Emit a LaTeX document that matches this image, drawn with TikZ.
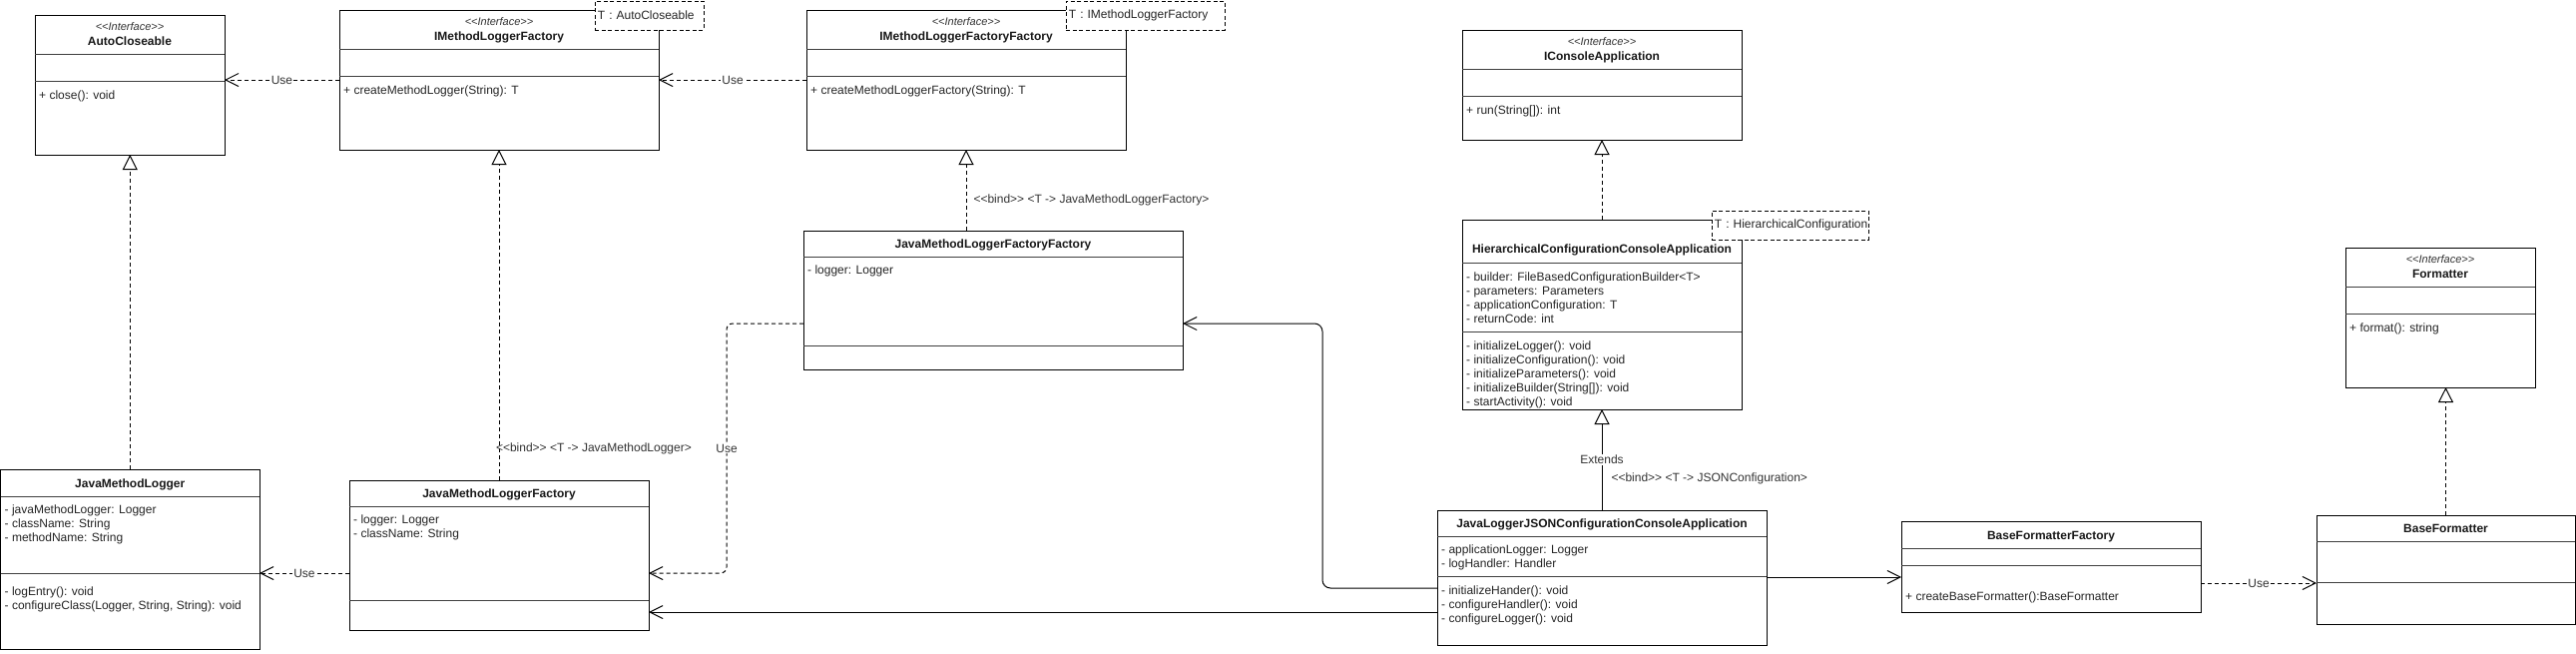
\documentclass[tikz,border=0pt]{standalone}
\usepackage{fontspec}
\setmainfont{Liberation Sans}
\usepackage{tikz}
\usetikzlibrary{positioning,arrows.meta,calc}

\def\linestep{14pt}
\tikzstyle{classbox}=[draw=black, line width=1pt, fill=white, anchor=north west,
    inner sep=0pt, outer sep=0pt]
\tikzstyle{sepline}=[draw=black!75, line width=0.8pt]
\tikzstyle{stereo}=[anchor=base, inner sep=0pt, text=black!80,
    font=\fontsize{11}{13}\selectfont\itshape]
\tikzstyle{title}=[anchor=base, inner sep=0pt, text=black!90,
    font=\fontsize{12}{14}\selectfont\bfseries]
\tikzstyle{member}=[anchor=base west, inner sep=0pt, text=black!85,
    font=\fontsize{12}{14}\selectfont]
\tikzstyle{tnote}=[draw=black, line width=0.9pt, dash pattern=on 4pt off 2.5pt, fill=white,
    anchor=north west, inner xsep=2.5pt, inner ysep=0pt, minimum height=28.5pt,
    align=left, text=black!85, font=\fontsize{12}{14}\selectfont]
\tikzstyle{lbl}=[fill=white, inner sep=1pt, text=black!80, font=\fontsize{12}{14}\selectfont]
\tikzstyle{bindlbl}=[anchor=west, inner sep=0pt, text=black!80, font=\fontsize{12}{14}\selectfont]
\tikzstyle{use}=[draw=black, line width=1pt, dash pattern=on 4pt off 3pt,
    -{Straight Barb[length=13pt, width=13pt]}]
\tikzstyle{assoc}=[draw=black, line width=1pt, -{Straight Barb[length=13pt, width=13pt]}]
\tikzstyle{realize}=[draw=black, line width=1pt, dash pattern=on 4pt off 3pt,
    -{Triangle[open, fill=white, length=15pt, width=15pt]}]
\tikzstyle{extend}=[draw=black, line width=1pt,
    -{Triangle[open, fill=white, length=15pt, width=15pt]}]

% box with two compartment lines: name, x, y, width, height, 1st line, 2nd line
\newcommand{\umlclass}[7]{%
  \node[classbox, minimum width=#4pt, minimum height=#5pt] (#1) at (#2,#3) {};
  \draw[sepline] ([yshift=-#6pt]#1.north west) -- ([yshift=-#6pt]#1.north east);
  \draw[sepline] ([yshift=-#7pt]#1.north west) -- ([yshift=-#7pt]#1.north east);}
% interface header
\newcommand{\ifacetitle}[2]{%
  \node[stereo] at ([yshift=-15.5pt]#1.north) {<{}<Interface>{}>};
  \node[title] at ([yshift=-30.5pt]#1.north) {#2};}
% member lines: node, first baseline below top, list
\newcommand{\members}[3]{%
  \foreach \m [count=\k from 0] in {#3}
    \node[member] at ([xshift=4pt, yshift={-(#2pt+\k*\linestep)}]#1.north west) {\m};}

\begin{document}
\begin{tikzpicture}[x=1pt, y=-1pt]
\path[use as bounding box, fill=white] (0,0) rectangle (2581,654);

% interfaces
\umlclass{auto}{35}{15}{190}{140}{39.3}{66}
\ifacetitle{auto}{AutoCloseable}
\members{auto}{84.3}{+ close(): void}

\umlclass{imlf}{340}{10}{320}{140}{39.3}{66}
\ifacetitle{imlf}{IMethodLoggerFactory}
\members{imlf}{84.3}{+ createMethodLogger(String): T}

\umlclass{imlff}{808}{10}{320}{140}{39.3}{66}
\ifacetitle{imlff}{IMethodLoggerFactoryFactory}
\members{imlff}{84.3}{+ createMethodLoggerFactory(String): T}

\umlclass{icons}{1465}{30}{280}{110}{39.3}{66.7}
\ifacetitle{icons}{IConsoleApplication}
\members{icons}{84.3}{+ run(String[]): int}

\umlclass{fmt}{2350}{248}{190}{140}{39.3}{66.3}
\ifacetitle{fmt}{Formatter}
\members{fmt}{84.3}{+ format(): string}

% classes
\umlclass{hcca}{1465}{220}{280}{190}{43.3}{112.3}
\node[title] at ([yshift=-33.6pt]hcca.north) {HierarchicalConfigurationConsoleApplication};
\members{hcca}{61}{- builder: FileBasedConfigurationBuilder<T>, - parameters: Parameters,
  - applicationConfiguration: T, - returnCode: int}
\members{hcca}{130.3}{- initializeLogger(): void, - initializeConfiguration(): void,
  - initializeParameters(): void, - initializeBuilder(String[]): void, - startActivity(): void}

\umlclass{jlj}{1440}{511}{330}{135}{26}{66}
\node[title] at ([yshift=-17.8pt]jlj.north) {JavaLoggerJSONConfigurationConsoleApplication};
\members{jlj}{43.3}{- applicationLogger: Logger, - logHandler: Handler}
\members{jlj}{84.3}{- initializeHander(): void, - configureHandler(): void, - configureLogger(): void}

\umlclass{jmlff}{805}{231}{380}{139}{26}{115}
\node[title] at ([yshift=-17.8pt]jmlff.north) {JavaMethodLoggerFactoryFactory};
\members{jmlff}{43.3}{- logger: Logger}

\umlclass{jmlf}{350}{481}{300}{150}{26}{120}
\node[title] at ([yshift=-17.8pt]jmlf.north) {JavaMethodLoggerFactory};
\members{jmlf}{43.3}{- logger: Logger, - className: String}

\umlclass{jml}{0.5}{470}{259.5}{180}{27}{104}
\node[title] at ([yshift=-18.5pt]jml.north) {JavaMethodLogger};
\members{jml}{44.3}{- javaMethodLogger: Logger, - className: String, - methodName: String}
\members{jml}{126}{- logEntry(): void, {- configureClass(Logger, String, String): void}}

\umlclass{bff}{1905}{522}{300}{91}{27}{44}
\node[title] at ([yshift=-18.5pt]bff.north) {BaseFormatterFactory};
\members{bff}{79}{+ createBaseFormatter():BaseFormatter}

\umlclass{bfmt}{2321}{516}{259}{109}{26}{67.3}
\node[title] at ([yshift=-17.8pt]bfmt.north) {BaseFormatter};

% template notes
\node[tnote, text width=104pt] (noteAuto) at (596,1) {\mbox{T : AutoCloseable}};
\node[tnote, text width=154pt] (noteFactory) at (1068,1) {\mbox{T : IMethodLoggerFactory}};
\node[tnote, text width=152pt] (noteConfig) at (1715,211) {\mbox{T : HierarchicalConfiguration}};

% connectors
\draw[use] (imlf.west |- 0,80) -- node[lbl]{Use} (auto.east |- 0,80);
\draw[use] (imlff.west |- 0,80) -- node[lbl]{Use} (imlf.east |- 0,80);
\draw[realize] (jml.north) -- (jml.north |- auto.south);
\draw[realize] (jmlf.north) -- node[bindlbl, pos=0.094, xshift=-3.5pt]
    {<{}<bind>{}> <T -> JavaMethodLogger>} (jmlf.north |- imlf.south);
\draw[realize] (imlff.south |- jmlff.north) -- node[bindlbl, pos=0.383, xshift=7pt]
    {<{}<bind>{}> <T -> JavaMethodLoggerFactory>} (imlff.south);
\draw[use] (jmlf.west |- 0,574) -- node[lbl]{Use} (jml.east |- 0,574);
\draw[use, rounded corners=6pt] (jmlff.west |- 0,324) -| node[lbl, pos=0.75]{Use} (728,574)
    -- (jmlf.east |- 0,574);
\draw[assoc, rounded corners=8pt] (jlj.west |- 0,589) -| (1325,324) -- (jmlff.east |- 0,324);
\draw[assoc] (jlj.west |- 0,613) -- (jmlf.east |- 0,613);
\draw[extend] (jlj.north) -- node[lbl]{Extends}
    node[bindlbl, pos=0.31, xshift=9pt]{<{}<bind>{}> <T -> JSONConfiguration>} (hcca.south);
\draw[realize] (hcca.north) -- (icons.south);
\draw[assoc] (jlj.east |- 0,578) -- (bff.west |- 0,578);
\draw[use] (bff.east |- 0,584) -- node[lbl]{Use} (bfmt.west |- 0,584);
\draw[realize] (bfmt.north) -- (bfmt.north |- fmt.south);
\end{tikzpicture}
\end{document}
